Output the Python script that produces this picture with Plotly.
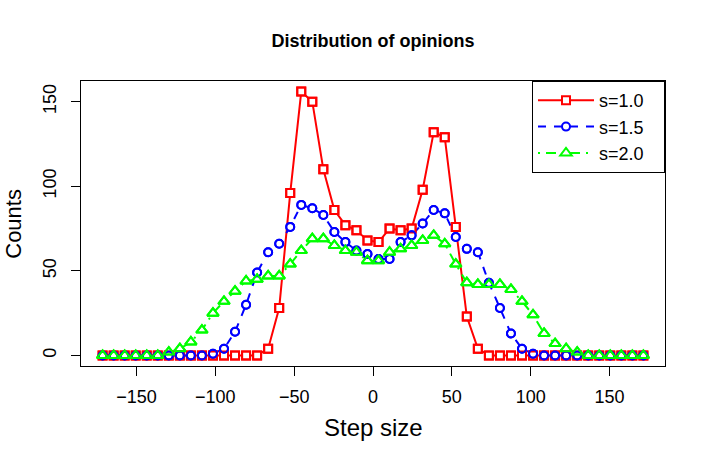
import plotly.graph_objects as go

# bin centres on the x axis
step_size = [
    -171.5, -164.5, -157.5, -150.5, -143.5, -136.5, -129.5, -122.5, -115.5, -108.5,
    -101.5, -94.5, -87.5, -80.5, -73.5, -66.5, -59.5, -52.5, -45.5, -38.5,
    -31.5, -24.5, -17.5, -10.5, -3.5, 3.5, 10.5, 17.5, 24.5, 31.5,
    38.5, 45.5, 52.5, 59.5, 66.5, 73.5, 80.5, 87.5, 94.5, 101.5,
    108.5, 115.5, 122.5, 129.5, 136.5, 143.5, 150.5, 157.5, 164.5, 171.5,
]

counts_s10 = [
    0, 0, 0, 0, 0, 0, 0, 0, 0, 0,
    0, 0, 0, 0, 0, 4, 28, 96, 156, 150,
    110, 86, 77, 74, 68, 67, 75, 74, 75, 98,
    132, 129, 76, 23, 4, 0, 0, 0, 0, 0,
    0, 0, 0, 0, 0, 0, 0, 0, 0, 0,
]

counts_s15 = [
    0, 0, 0, 0, 0, 0, 0, 0, 0, 0,
    1, 4, 14, 30, 49, 61, 66, 76, 89, 87,
    83, 73, 67, 62, 60, 57, 57, 67, 71, 78,
    86, 84, 70, 63, 61, 43, 28, 13, 4, 1,
    0, 0, 0, 0, 0, 0, 0, 0, 0, 0,
]

counts_s20 = [
    0, 0, 0, 0, 0, 0, 2, 4, 8, 15,
    25, 32, 38, 44, 45, 47, 47, 54, 62, 69,
    69, 65, 62, 61, 56, 56, 61, 63, 65, 68,
    71, 66, 54, 43, 42, 42, 42, 39, 32, 24,
    13, 7, 4, 2, 0, 0, 0, 0, 0, 0,
]

series_names = ["s=1.0", "s=1.5", "s=2.0"]
x_ticks = [-150, -100, -50, 0, 50, 100, 150]
y_ticks = [0, 50, 100, 150]

FONT = "Liberation Sans, Arial, Helvetica, sans-serif"
PAD = "\u00a0" * 3  # right padding inside the legend box

styles = [
    dict(color="#ff0000", dash="solid", symbol="square", size=8),
    dict(color="#0000ff", dash="8px,8px", symbol="circle", size=8),
    dict(color="#00ff00", dash="2px,6px,10px,6px", symbol="triangle-up", size=10),
]

fig = go.Figure()

all_counts = [counts_s10, counts_s15, counts_s20]

# lines + white-filled markers (hide the line inside each point, like type="b")
for name, ys, st in zip(series_names, all_counts, styles):
    fig.add_trace(go.Scatter(
        x=step_size, y=ys, name=name + PAD, mode="lines+markers",
        line=dict(color=st["color"], width=2, dash=st["dash"]),
        marker=dict(symbol=st["symbol"], size=st["size"], color="white",
                    line=dict(color=st["color"], width=2)),
    ))

# open outlines on top so overlapping points stay visible
for ys, st in zip(all_counts, styles):
    fig.add_trace(go.Scatter(
        x=step_size, y=ys, mode="markers", showlegend=False, hoverinfo="skip",
        marker=dict(symbol=st["symbol"] + "-open", size=st["size"],
                    color=st["color"], line=dict(width=2)),
    ))

axis_common = dict(
    showgrid=False, zeroline=False, showline=True, mirror=True,
    linecolor="black", linewidth=1, ticks="outside", ticklen=9,
    tickcolor="black", tickwidth=1, automargin=False,
    tickfont=dict(family=FONT, size=18, color="black"),
)

fig.update_xaxes(range=[-185.2, 185.2], tickvals=x_ticks,
                 ticklabelstandoff=5, **axis_common)
fig.update_yaxes(range=[-6.24, 162.24], tickvals=y_ticks, tickangle=-90,
                 ticklabelstandoff=8, **axis_common)

fig.update_layout(
    width=706, height=467,
    margin=dict(l=81, r=41, t=81, b=101, autoexpand=False),
    plot_bgcolor="white", paper_bgcolor="white",
    font=dict(family=FONT, color="black"),
    title=dict(text="<b>Distribution of opinions</b>", x=0.5, xref="paper",
               y=1 - 41 / 467, yref="container", yanchor="middle",
               font=dict(family=FONT, size=18, color="black")),
    legend=dict(x=1, y=1, xanchor="right", yanchor="top",
                bordercolor="black", borderwidth=1, bgcolor="white",
                font=dict(family=FONT, size=18, color="black"),
                itemwidth=56, tracegroupgap=0),
    annotations=[
        dict(text="Step size", xref="paper", yref="paper", x=0.5, y=-0.2175,
             xanchor="center", yanchor="middle", showarrow=False,
             font=dict(family=FONT, size=24, color="black")),
        dict(text="Counts", xref="paper", yref="paper", x=-0.116, y=0.5,
             textangle=-90, xanchor="center", yanchor="middle", showarrow=False,
             font=dict(family=FONT, size=22, color="black")),
    ],
)

# drop the browser's default 8px body margin so the figure sits at 0,0
fig.write_html("out.html", config={"displayModeBar": False},
               post_script="document.body.style.margin='0';")
